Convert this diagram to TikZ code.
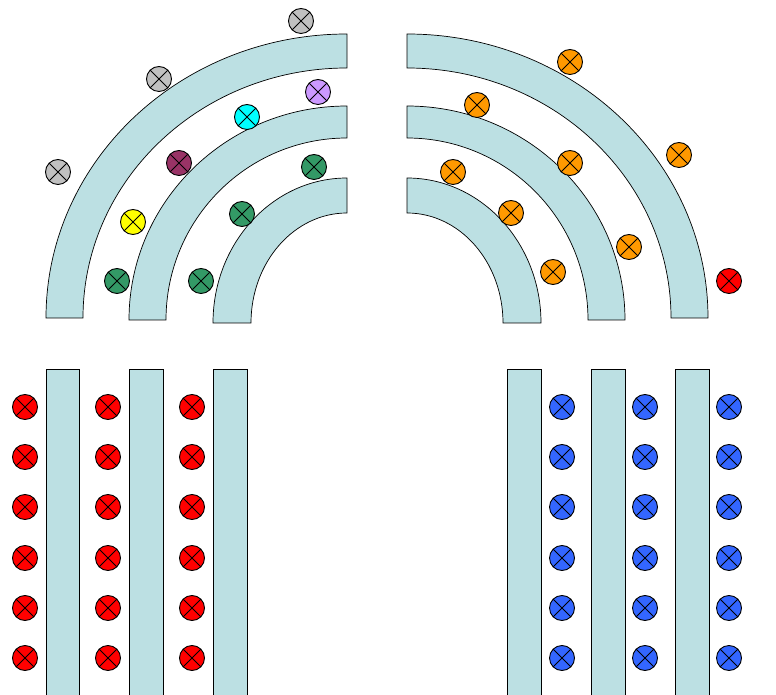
\documentclass[tikz,border=0pt]{standalone}
\begin{document}
\begin{tikzpicture}[x=1pt,y=1pt,
  bench/.style={fill=benchc,draw=black,line width=0.7pt},
  seat/.style={circle,draw=black,line width=0.9pt,minimum size=25pt,inner sep=0pt,
    path picture={\draw[line width=0.9pt] (path picture bounding box.north west) -- (path picture bounding box.south east)
      (path picture bounding box.north east) -- (path picture bounding box.south west);}},
]
\definecolor{benchc}{HTML}{BCE0E3}
\definecolor{sred}{HTML}{FF0000}
\definecolor{sblue}{HTML}{3366FF}
\definecolor{sorange}{HTML}{FF9900}
\definecolor{sgreen}{HTML}{339966}
\definecolor{sgray}{HTML}{C0C0C0}
\definecolor{sviolet}{HTML}{CC99FF}
\definecolor{scyan}{HTML}{00FFFF}
\definecolor{smaroon}{HTML}{993366}
\definecolor{syellow}{HTML}{FFFF00}
\useasboundingbox (0,0) rectangle (776,694);
\clip (0,0) rectangle (776,694);
% left arcs
\draw[bench] (46,376) arc[start angle=180,end angle=90,x radius=301,y radius=284] -- (347,626) arc[start angle=90,end angle=180,x radius=264,y radius=250] -- cycle;
\draw[bench] (129,374) arc[start angle=180,end angle=90,x radius=218,y radius=214] -- (347,556) arc[start angle=90,end angle=180,x radius=181,y radius=182] -- cycle;
\draw[bench] (213,371) arc[start angle=180,end angle=90,x radius=134,y radius=145] -- (347,481) arc[start angle=90,end angle=180,x radius=96,y radius=110] -- cycle;
% right arcs
\draw[bench] (708,376) arc[start angle=0,end angle=90,x radius=301,y radius=284] -- (407,626) arc[start angle=90,end angle=0,x radius=264,y radius=250] -- cycle;
\draw[bench] (625,374) arc[start angle=0,end angle=90,x radius=218,y radius=214] -- (407,556) arc[start angle=90,end angle=0,x radius=181,y radius=182] -- cycle;
\draw[bench] (541,371) arc[start angle=0,end angle=90,x radius=134,y radius=145] -- (407,481) arc[start angle=90,end angle=0,x radius=96,y radius=110] -- cycle;
% straight benches
\foreach \a/\b in {46/79,129/163,213/247,507/541,591/625,675/709}
  \draw[bench] (\a,-5) rectangle (\b,325);
% top seats left
\node[seat,fill=sgray] (g1) at (301,673) {};
\node[seat,fill=sgray] (g2) at (159,615) {};
\node[seat,fill=sgray] (g3) at (58,522) {};
\node[seat,fill=sviolet] (v1) at (318,602) {};
\node[seat,fill=scyan] (c1) at (247,577) {};
\node[seat,fill=smaroon] (m1) at (179,531) {};
\node[seat,fill=syellow] (y1) at (133,472) {};
\node[seat,fill=sgreen] (gr1) at (117,413) {};
\node[seat,fill=sgreen] (gr2) at (201,413) {};
\node[seat,fill=sgreen] (gr3) at (242,480) {};
\node[seat,fill=sgreen] (gr4) at (314,527) {};
% top seats right
\node[seat,fill=sorange] (o1) at (570,632) {};
\node[seat,fill=sorange] (o2) at (477,589) {};
\node[seat,fill=sorange] (o3) at (679,539) {};
\node[seat,fill=sorange] (o4) at (570,531) {};
\node[seat,fill=sorange] (o5) at (453,522) {};
\node[seat,fill=sorange] (o6) at (511,481) {};
\node[seat,fill=sorange] (o7) at (629,447) {};
\node[seat,fill=sorange] (o8) at (553,422) {};
\node[seat,fill=sred] (rr1) at (729,413) {};
% bottom grids
\foreach \y [count=\j] in {287,237,187,136,86,36}{
  \foreach \x [count=\i] in {25,108,192}
    \node[seat,fill=sred] (r-\i-\j) at (\x,\y) {};
  \foreach \x [count=\i] in {562,645,729}
    \node[seat,fill=sblue] (b-\i-\j) at (\x,\y) {};
}
\end{tikzpicture}
\end{document}
